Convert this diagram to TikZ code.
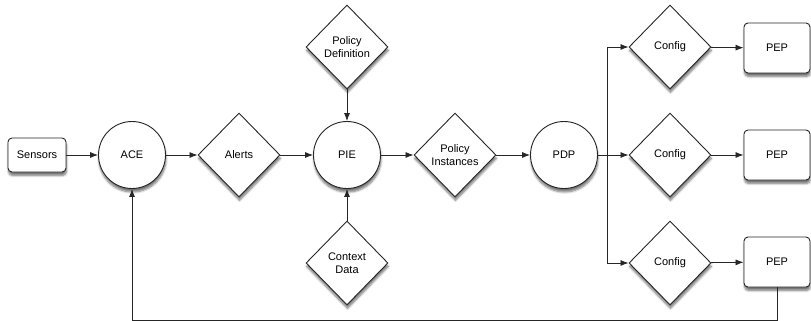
\documentclass[tikz,border=0pt]{standalone}
\usepackage{fontspec}
\setmainfont{Liberation Sans}
\usetikzlibrary{shapes.geometric,arrows.meta,shadows.blur}
\begin{document}
\begin{tikzpicture}[x=1pt,y=-1pt,
  every node/.style={font=\fontsize{11}{13}\selectfont, align=center, inner sep=0pt,
    draw=black!85, line width=0.9pt, fill=white,
    blur shadow={shadow xshift=0.5pt, shadow yshift=-3.5pt, shadow blur steps=6, shadow opacity=55}},
  proc/.style={circle, minimum size=67pt},
  dec/.style={diamond, minimum width=82pt, minimum height=84pt},
  box/.style={rectangle, rounded corners=4pt},
  flow/.style={draw=black!85, line width=0.8pt, -{Latex[length=8pt,width=6pt]}},
  wire/.style={draw=black!85, line width=0.8pt}]
\useasboundingbox (0,0) rectangle (811,321);

\node[box, minimum width=58pt, minimum height=34pt] (sensors) at (37,155) {Sensors};
\node[proc] (ace) at (132,155) {ACE};
\node[dec] (alerts) at (239,155) {Alerts};
\node[proc] (pie) at (347,155) {PIE};
\node[dec] (pdef) at (347,47) {Policy\\Definition};
\node[dec] (ctx) at (347,263) {Context\\Data};
\node[dec] (pinst) at (455,155) {Policy\\Instances};
\node[proc] (pdp) at (564,155) {PDP};

\node[dec] (cfgA) at (670,47) {Config};
\node[dec] (cfgB) at (670,155) {Config};
\node[dec] (cfgC) at (670,263) {Config};
\node[box, minimum width=66pt, minimum height=50pt] (pepA) at (777,48) {PEP};
\node[box, minimum width=66pt, minimum height=50pt] (pepB) at (777,155) {PEP};
\node[box, minimum width=66pt, minimum height=50pt] (pepC) at (777,262) {PEP};

\coordinate (split) at (607,155);
\coordinate (loopR) at (pepC.south |- 0,320);
\coordinate (loopL) at (ace.south |- 0,320);

\draw[flow] (sensors) -- (ace);
\draw[flow] (ace) -- (alerts);
\draw[flow] (alerts) -- (pie);
\draw[flow] (pdef) -- (pie);
\draw[flow] (ctx) -- (pie);
\draw[flow] (pie) -- (pinst);
\draw[flow] (pinst) -- (pdp);

\draw[wire] (pdp) -- (split);
\draw[flow] (split) -- (cfgB);
\draw[flow] (split) |- (cfgA);
\draw[flow] (split) |- (cfgC);

\draw[flow] (cfgA) -- (pepA);
\draw[flow] (cfgB) -- (pepB);
\draw[flow] (cfgC) -- (pepC);

\draw[flow] (pepC.south) -- (loopR) -- (loopL) -- (ace.south);
\end{tikzpicture}
\end{document}
